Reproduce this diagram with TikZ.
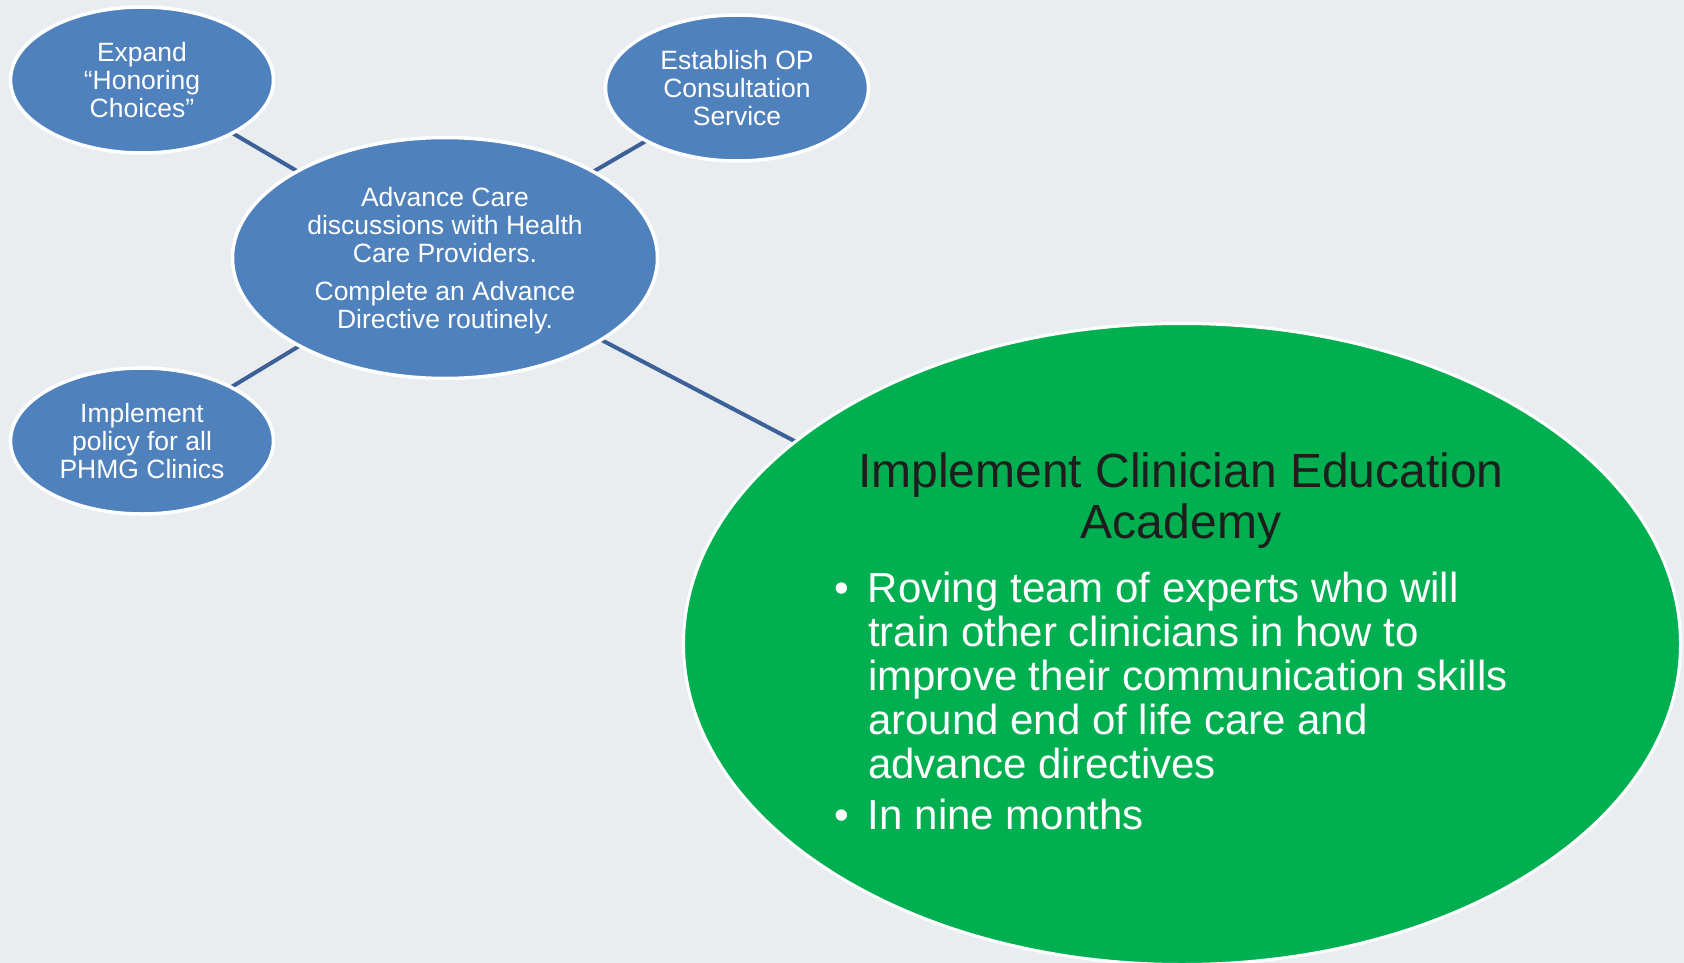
\documentclass[tikz,border=0pt]{standalone}
\usepackage{fontspec}
\setmainfont{Liberation Sans}
\usetikzlibrary{shapes.geometric}
\definecolor{bgcol}{HTML}{E9EDF0}
\definecolor{bluefill}{HTML}{4F81BD}
\definecolor{greenfill}{HTML}{00B050}
\definecolor{linecol}{HTML}{3C6098}
\definecolor{titlecol}{HTML}{1E1E1E}
\pgfdeclarelayer{bg}
\pgfdeclarelayer{lines}
\pgfsetlayers{bg,lines,main}
\tikzset{
  bubble/.style={ellipse, fill=bluefill, draw=white, line width=3.5pt, inner sep=0pt,
    text=white, align=center, font=\fontsize{26.5}{28}\selectfont},
  small/.style={bubble, minimum width=263pt, minimum height=146pt},
  bigbubble/.style={ellipse, fill=greenfill, draw=white, line width=3pt, inner sep=0pt,
    minimum width=997pt, minimum height=641pt},
  conn/.style={draw=linecol, line width=4pt},
  txt/.style={inner sep=0pt, outer sep=0pt}
}
\begin{document}
\begin{tikzpicture}[x=1pt,y=-1pt]
\begin{pgfonlayer}{bg}
\fill[bgcol] (0,0) rectangle (1684,963);
\end{pgfonlayer}
\useasboundingbox (0,0) rectangle (1684,963);

\node[bubble, minimum width=425pt, minimum height=241pt] (c) at (445,258)
  {\rule{0pt}{25pt}Advance Care\\discussions with Health\\Care Providers.\\[10pt]Complete an Advance\\Directive routinely.};
\node[small] (e) at (142,80) {Expand\\``Honoring\\Choices''};
\node[small] (o) at (737,88) {Establish OP\\Consultation\\Service};
\node[small] (p) at (142,441) {Implement\\policy for all\\PHMG Clinics};
\node[bigbubble] (g) at (1182,644) {};

\node[txt, anchor=base, text=titlecol, font=\fontsize{48}{51.5}\selectfont] (gt) at (1181,487)
  {\begin{tabular}[t]{@{}c@{}}Implement Clinician Education\\Academy\end{tabular}};
\node[txt, anchor=base west, text=white, font=\fontsize{42}{44}\selectfont] (gb) at (834,602)
  {\begin{tabular}[t]{@{}p{34pt}@{}l@{}}
  \textbullet & Roving team of experts who will\\
  & train other clinicians in how to\\
  & improve their communication skills\\
  & around end of life care and\\
  & advance directives\\[7.5pt]
  \textbullet & In nine months
  \end{tabular}};

\begin{pgfonlayer}{lines}
\draw[conn] (c.center) -- (e.center);
\draw[conn] (c.center) -- (o.center);
\draw[conn] (c.center) -- (p.center);
\draw[conn] (c.center) -- (g.center);
\end{pgfonlayer}
\end{tikzpicture}
\end{document}
